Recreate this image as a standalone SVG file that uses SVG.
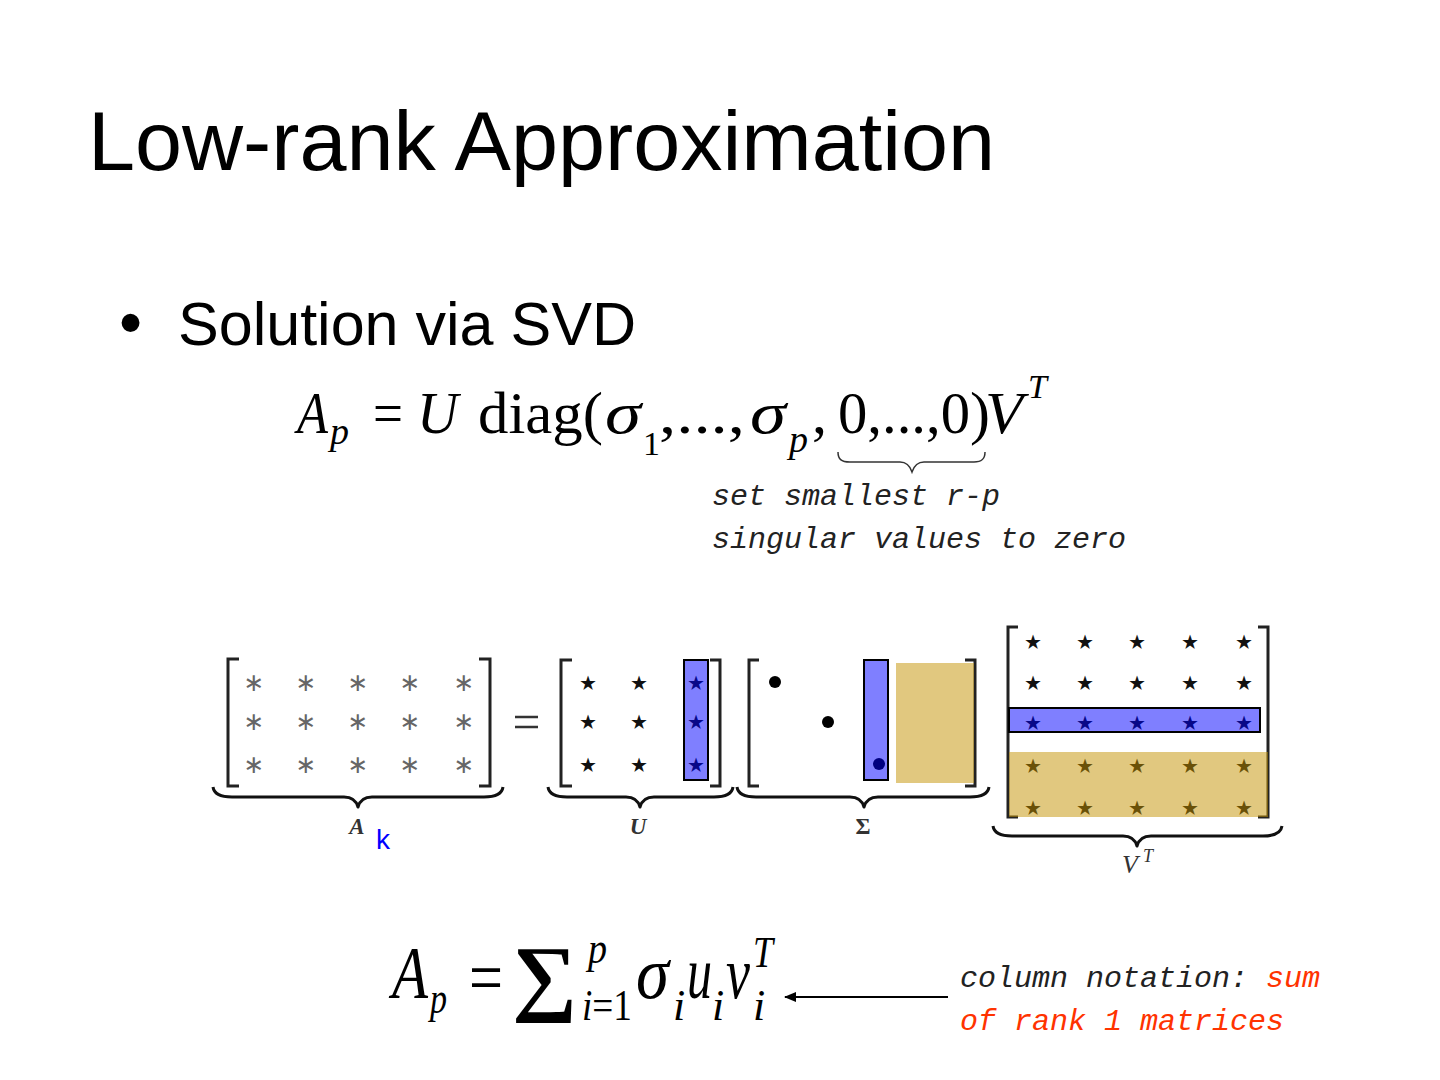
<svg xmlns="http://www.w3.org/2000/svg" width="1440" height="1080" viewBox="0 0 1440 1080">
<style>
.sans{font-family:"Liberation Sans",Arial,sans-serif;}
.ser{font-family:"Liberation Serif","Times New Roman",serif;fill:#000;}
.it{font-style:italic;}
.mono{font-family:"Liberation Mono","Courier New",monospace;font-style:italic;font-size:30px;fill:#222;}
.red{fill:#ff3300;}
.ast{font-family:"DejaVu Sans",sans-serif;font-size:25px;fill:#666;text-anchor:middle;dominant-baseline:central;}
.star{font-family:"DejaVu Sans",sans-serif;font-size:40px;fill:#111;text-anchor:middle;dominant-baseline:central;}
.brk{fill:none;stroke:#222;stroke-width:3;}
.brace{fill:none;stroke:#111;stroke-width:3;stroke-linejoin:round;}
.blue{fill:#0000ff;fill-opacity:0.5;stroke:#000;stroke-width:2;}
.tan{fill:#c49200;fill-opacity:0.5;stroke:none;}
.lbl{font-family:"Liberation Serif","Times New Roman",serif;fill:#333;text-anchor:middle;}
</style>
<defs>
<marker id="arr" markerWidth="12" markerHeight="10" refX="11" refY="5" orient="auto" markerUnits="userSpaceOnUse">
<path d="M0,0 L12,5 L0,10 Z" fill="#000"/>
</marker>
</defs>
<rect width="1440" height="1080" fill="#fff"/>

<g id="title">
<text class="sans" x="88" y="170" font-size="84" textLength="907" lengthAdjust="spacingAndGlyphs">Low-rank Approximation</text>
</g>

<g id="bullet">
<text class="sans" x="119" y="345" font-size="66">•</text>
<text class="sans" x="178" y="345" font-size="61" textLength="458" lengthAdjust="spacingAndGlyphs">Solution via SVD</text>
</g>

<g id="equation1">
<text class="ser it" x="297" y="433" font-size="60" textLength="31" lengthAdjust="spacingAndGlyphs">A</text>
<text class="ser it" x="330" y="444" font-size="38">p</text>
<text class="ser" x="373" y="433" font-size="60" textLength="30" lengthAdjust="spacingAndGlyphs">=</text>
<text class="ser it" x="417" y="433" font-size="60" textLength="41" lengthAdjust="spacingAndGlyphs">U</text>
<text class="ser" x="478" y="433" font-size="60" textLength="125" lengthAdjust="spacingAndGlyphs">diag(</text>
<text class="ser it" x="605" y="433" font-size="60" textLength="36" lengthAdjust="spacingAndGlyphs">σ</text>
<text class="ser" x="643" y="455" font-size="34">1</text>
<text class="ser" x="659" y="433" font-size="60" textLength="86" lengthAdjust="spacingAndGlyphs">,...,</text>
<text class="ser it" x="750" y="433" font-size="60" textLength="36" lengthAdjust="spacingAndGlyphs">σ</text>
<text class="ser it" x="789" y="452" font-size="38">p</text>
<text class="ser" x="812" y="433" font-size="60">,</text>
<text class="ser" x="838" y="433" font-size="60" textLength="132" lengthAdjust="spacingAndGlyphs">0,...,0</text>
<text class="ser" x="970" y="433" font-size="60">)</text>
<text class="ser it" x="985" y="433" font-size="60" textLength="38" lengthAdjust="spacingAndGlyphs">V</text>
<text class="ser it" x="1028" y="398" font-size="34">T</text>
<path d="M838,452 C838,459 841,462 850,462 L900,462 C907,462 910,466 912,472 C914,466 917,462 924,462 L974,462 C982,462 985,459 985,452" fill="none" stroke="#333" stroke-width="1.5"/>
<text class="mono" x="712" y="505">set smallest r-p</text>
<text class="mono" x="712" y="548">singular values to zero</text>
</g>

<g id="matrix-A">
<path class="brk" d="M239,659 L228,659 L228,786 L239,786"/>
<path class="brk" d="M479,659 L490,659 L490,786 L479,786"/>
<g class="ast">
<text x="254" y="682">∗</text><text x="306" y="682">∗</text><text x="358" y="682">∗</text><text x="410" y="682">∗</text><text x="464" y="682">∗</text>
<text x="254" y="721">∗</text><text x="306" y="721">∗</text><text x="358" y="721">∗</text><text x="410" y="721">∗</text><text x="464" y="721">∗</text>
<text x="254" y="764">∗</text><text x="306" y="764">∗</text><text x="358" y="764">∗</text><text x="410" y="764">∗</text><text x="464" y="764">∗</text>
</g>
<path class="brace" d="M213,787 C214,794 220,797 232,797 L344,797 C352,797 356,800 358,807 C360,800 364,797 372,797 L484,797 C496,797 502,794 503,787"/>
<text class="lbl" x="357" y="834" font-size="23" font-weight="bold" font-style="italic">A</text>
<text class="sans" x="376" y="849" font-size="28" fill="#0000ff">k</text>
</g>

<g id="equals">
<path d="M515,717 L538,717 M515,727 L538,727" stroke="#333" stroke-width="2.5"/>
</g>

<g id="matrix-U">
<path class="brk" d="M572,660 L561,660 L561,786 L572,786"/>
<path class="brk" d="M710,660 L720,660 L720,786 L710,786"/>
<g class="star">
<text x="588" y="682">⋆</text><text x="639" y="682">⋆</text><text x="696" y="682">⋆</text>
<text x="588" y="721">⋆</text><text x="639" y="721">⋆</text><text x="696" y="721">⋆</text>
<text x="588" y="764">⋆</text><text x="639" y="764">⋆</text><text x="696" y="764">⋆</text>
</g>
<rect class="blue" x="684" y="660" width="24" height="120"/>
<path class="brace" d="M548,787 C549,794 555,797 567,797 L626,797 C634,797 638,800 640,807 C642,800 646,797 654,797 L714,797 C726,797 732,794 733,787"/>
<text class="lbl" x="638" y="834" font-size="23" font-style="italic" font-weight="bold">U</text>
</g>

<g id="matrix-Sigma">
<path class="brk" d="M759,660 L749,660 L749,786 L759,786"/>
<path class="brk" d="M965,660 L975,660 L975,786 L965,786"/>
<circle cx="775" cy="682" r="6" fill="#000"/>
<circle cx="828" cy="722" r="6" fill="#000"/>
<circle cx="879" cy="764" r="6" fill="#000"/>
<rect class="blue" x="864" y="660" width="24" height="120"/>
<rect class="tan" x="896" y="663" width="78" height="120"/>
<path class="brace" d="M737,787 C738,794 744,797 756,797 L850,797 C858,797 862,800 864,807 C866,800 870,797 878,797 L970,797 C982,797 988,794 989,787"/>
<text class="lbl" x="863" y="834" font-size="23" font-weight="bold">Σ</text>
</g>

<g id="matrix-VT">
<path class="brk" d="M1018,627 L1008,627 L1008,817 L1018,817"/>
<path class="brk" d="M1258,627 L1268,627 L1268,817 L1258,817"/>
<g class="star">
<text x="1033" y="641">⋆</text><text x="1085" y="641">⋆</text><text x="1137" y="641">⋆</text><text x="1190" y="641">⋆</text><text x="1244" y="641">⋆</text>
<text x="1033" y="682">⋆</text><text x="1085" y="682">⋆</text><text x="1137" y="682">⋆</text><text x="1190" y="682">⋆</text><text x="1244" y="682">⋆</text>
<text x="1033" y="722">⋆</text><text x="1085" y="722">⋆</text><text x="1137" y="722">⋆</text><text x="1190" y="722">⋆</text><text x="1244" y="722">⋆</text>
<text x="1033" y="765">⋆</text><text x="1085" y="765">⋆</text><text x="1137" y="765">⋆</text><text x="1190" y="765">⋆</text><text x="1244" y="765">⋆</text>
<text x="1033" y="807">⋆</text><text x="1085" y="807">⋆</text><text x="1137" y="807">⋆</text><text x="1190" y="807">⋆</text><text x="1244" y="807">⋆</text>
</g>
<rect class="blue" x="1009" y="708" width="251" height="24"/>
<rect class="tan" x="1009" y="752" width="259" height="65"/>
<path class="brace" d="M993,826 C994,833 1000,836 1012,836 L1123,836 C1131,836 1135,839 1137,846 C1139,839 1143,836 1151,836 L1263,836 C1275,836 1281,833 1282,826"/>
<text class="lbl" x="1130" y="873" font-size="26" font-style="italic">V</text>
<text class="lbl" x="1148" y="862" font-size="18" font-style="italic">T</text>
</g>

<g id="equation2">
<text class="ser it" x="392" y="998" font-size="75" textLength="36" lengthAdjust="spacingAndGlyphs">A</text>
<text class="ser it" x="430" y="1013" font-size="44" textLength="17" lengthAdjust="spacingAndGlyphs">p</text>
<text class="ser" x="469" y="1002" font-size="75" textLength="34" lengthAdjust="spacingAndGlyphs">=</text>
<text class="ser" x="512" y="1005" font-size="85" font-weight="bold" textLength="65" lengthAdjust="spacingAndGlyphs">∑</text>
<text class="ser it" x="588" y="963" font-size="44" textLength="19" lengthAdjust="spacingAndGlyphs">p</text>
<text class="ser" x="582" y="1020" font-size="44" textLength="50" lengthAdjust="spacingAndGlyphs"><tspan font-style="italic">i</tspan>=1</text>
<text class="ser it" x="636" y="998" font-size="75" textLength="33" lengthAdjust="spacingAndGlyphs">σ</text>
<text class="ser it" x="673" y="1020" font-size="44">i</text>
<text class="ser it" x="687" y="998" font-size="75" textLength="25" lengthAdjust="spacingAndGlyphs">u</text>
<text class="ser it" x="712" y="1020" font-size="44">i</text>
<text class="ser it" x="726" y="998" font-size="75" textLength="24" lengthAdjust="spacingAndGlyphs">v</text>
<text class="ser it" x="753" y="967" font-size="44" textLength="20" lengthAdjust="spacingAndGlyphs">T</text>
<text class="ser it" x="753" y="1020" font-size="44">i</text>
</g>

<g id="connectors">
<line x1="948" y1="997" x2="785" y2="997" stroke="#000" stroke-width="2" marker-end="url(#arr)"/>
</g>

<g id="note">
<text class="mono" x="960" y="987">column notation: <tspan class="red">sum</tspan></text>
<text class="mono red" x="960" y="1030">of rank 1 matrices</text>
</g>
</svg>
